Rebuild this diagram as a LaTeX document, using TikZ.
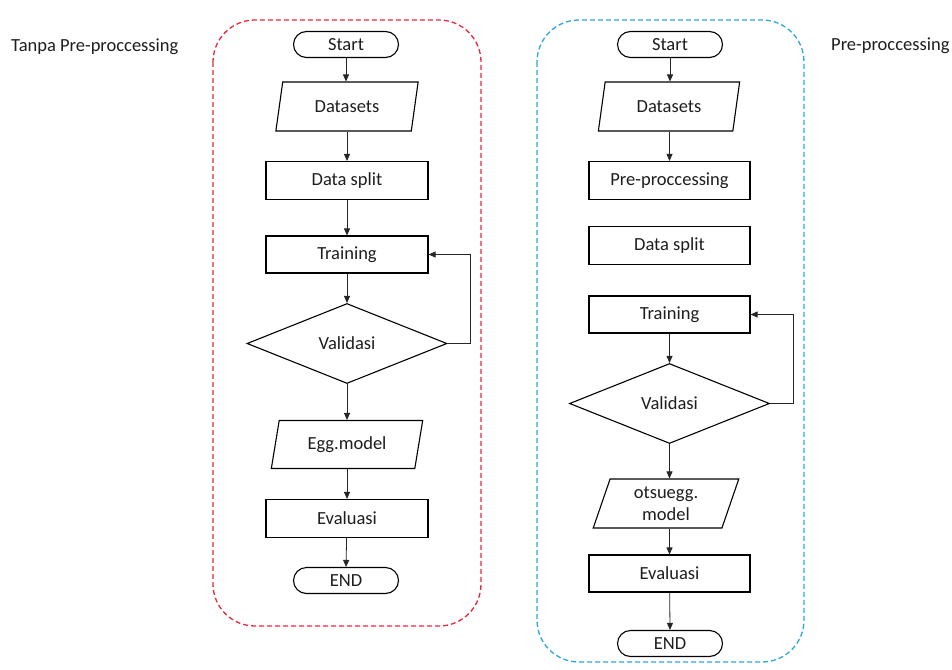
\documentclass[tikz,border=0pt]{standalone}
\usepackage{fontspec}
\setmainfont{Carlito}
\usetikzlibrary{shapes.geometric,arrows.meta}
\definecolor{redbox}{RGB}{232,40,60}
\definecolor{bluebox}{RGB}{42,168,220}
\definecolor{txt}{RGB}{30,30,30}
\begin{document}
\begin{tikzpicture}[x=1pt,y=-1pt,
  every node/.style={font=\fontsize{18.5}{20}\selectfont, text=txt, inner sep=0pt},
  term/.style={draw, line width=1.1pt, rounded corners=13pt, minimum width=105pt, minimum height=26pt},
  proc/.style={draw, line width=1.1pt, rectangle, minimum width=162pt, minimum height=38pt},
  io/.style={draw, line width=1.1pt, trapezium, trapezium left angle=74, trapezium right angle=106, trapezium stretches=true, minimum height=49pt},
  dec/.style={draw, line width=1.1pt, diamond, minimum width=200pt, minimum height=80pt},
  conn/.style={draw=black!85, line width=0.8pt, -{Triangle[length=7pt,width=6pt]}},
  plain/.style={draw=black!85, line width=0.8pt},
  groupbox/.style={line width=1.3pt, dash pattern=on 5pt off 3pt, rounded corners=42pt}
]
\useasboundingbox (0,0) rectangle (952,669);
\fill[white] (0,0) rectangle (952,669);

% group frames
\draw[groupbox, draw=redbox] (213,20) rectangle (481,626);
\draw[groupbox, draw=bluebox] (537,20) rectangle (804,662);

% side labels
\node[anchor=west] (lblL) at (11,47) {Tanpa Pre-proccessing};
\node[anchor=west] (lblR) at (831,46) {Pre-proccessing};

% left chart
\node[term] (st1) at (346,44.5) {Start};
\node[io, minimum width=143pt] (ds1) at (347,106.5) {Datasets};
\node[proc] (sp1) at (347,180.5) {Data split};
\node[proc, minimum height=37pt] (tr1) at (347,254.5) {Training};
\node[dec] (va1) at (347,343.5) {Validasi};
\node[io, minimum width=152pt, minimum height=48pt] (em1) at (347,444.5) {Egg.model};
\node[proc] (ev1) at (347,518.5) {Evaluasi};
\node[term] (en1) at (346,580.5) {END};
\coordinate (lp1) at (470,343.5);

\draw[conn] (st1) -- (st1 |- ds1.north);
\draw[conn] (ds1.south -| sp1) -- (sp1);
\draw[conn] (sp1) -- (tr1);
\draw[conn] (tr1) -- (va1);
\draw[conn] (va1) -- (va1 |- em1.north);
\draw[conn] (em1.south -| ev1) -- (ev1);
\draw[conn] (ev1) -- (en1 |- en1.north);
\draw[plain] (va1.east) -- (lp1);
\draw[conn] (lp1) |- (tr1.east);

% right chart
\node[term] (st2) at (670,44.5) {Start};
\node[io, minimum width=142pt] (ds2) at (669,106.5) {Datasets};
\node[proc, minimum width=161pt] (pp2) at (669.5,180.5) {Pre-proccessing};
\node[proc, minimum width=161pt] (sp2) at (669.5,245.5) {Data split};
\node[proc, minimum width=161pt, minimum height=37pt] (tr2) at (669.5,314.5) {Training};
\node[dec] (va2) at (669.5,403.5) {Validasi};
\node[io, minimum width=146pt, minimum height=49pt, align=center, font=\fontsize{18.5}{22}\selectfont] (om2) at (666,503.5) {otsuegg.\\model};
\node[proc, minimum width=161pt, minimum height=37pt] (ev2) at (669.5,573.5) {Evaluasi};
\node[term] (en2) at (670,643.5) {END};
\coordinate (lp2) at (793,403.5);

\draw[conn] (st2) -- (st2 |- ds2.north);
\draw[conn] (ds2.south -| pp2) -- (pp2);
\draw[conn] (tr2) -- (va2);
\draw[conn] (va2) -- (va2 |- om2.north);
\draw[conn] (om2.south -| ev2) -- (ev2);
\draw[conn] (ev2) -- (en2 |- en2.north);
\draw[plain] (va2.east) -- (lp2);
\draw[conn] (lp2) |- (tr2.east);
\end{tikzpicture}
\end{document}
